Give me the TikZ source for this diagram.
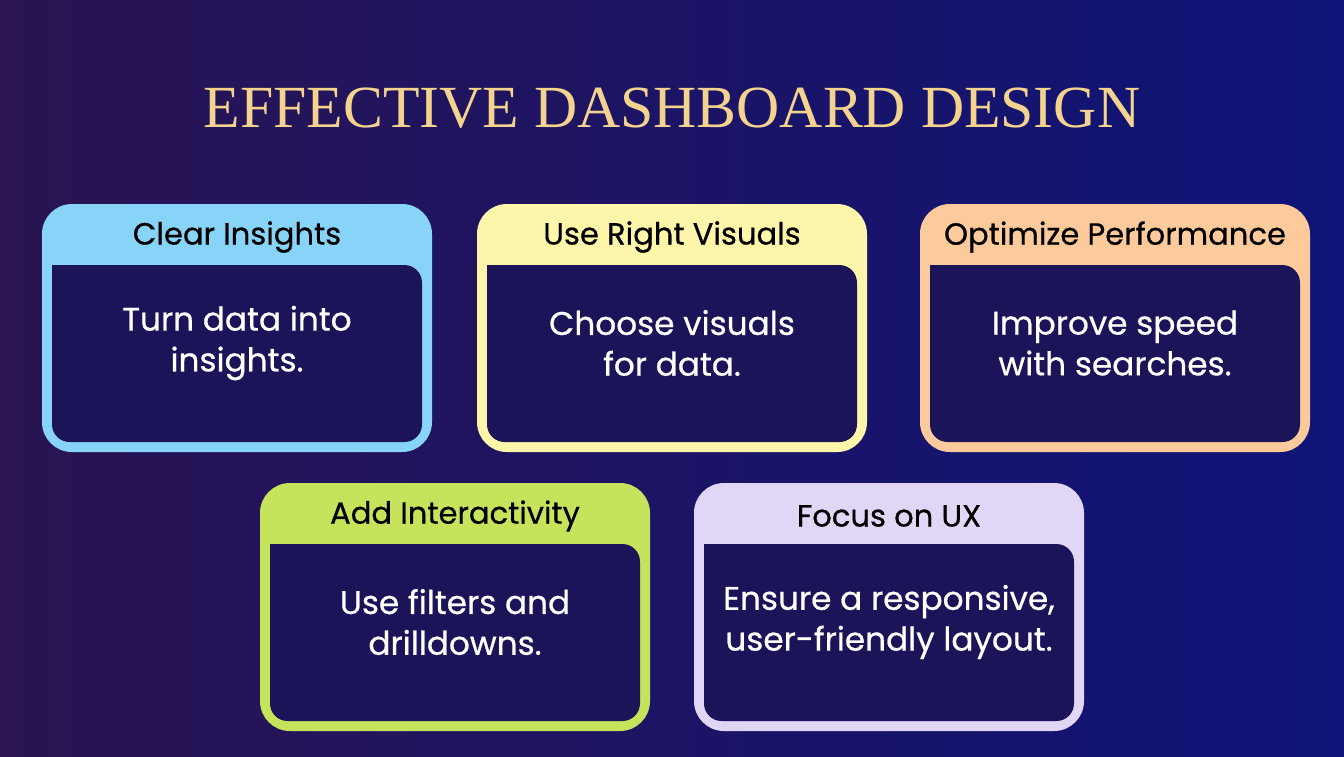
\documentclass[tikz,border=0pt]{standalone}
\usepackage{fontspec}
\setmainfont{Liberation Serif}
\newfontfamily\cardfont[FakeBold=0.6]{Poppins}
\usetikzlibrary{positioning,calc}
\definecolor{bgleft}{HTML}{2A1452}
\definecolor{bgright}{HTML}{0E1478}
\definecolor{inner}{HTML}{1C1458}
\definecolor{titlegold}{HTML}{F3D38E}
\definecolor{cblue}{HTML}{88D4F9}
\definecolor{cyellow}{HTML}{FDF6AA}
\definecolor{corange}{HTML}{FDCA9C}
\definecolor{cgreen}{HTML}{C6E35C}
\definecolor{clav}{HTML}{E1D6F5}
\tikzset{
  cardhead/.style={font=\cardfont\fontsize{8.7}{10}\selectfont, text=black},
  cardbody/.style={font=\cardfont\fontsize{9.3}{11.6}\selectfont, text=white, align=center}
}
% card: name, left, top, colour, heading, body
\newcommand{\card}[6]{
  \fill[#4, rounded corners=8.5pt] (#2,#3) rectangle ++(390,248);
  \fill[inner, rounded corners=5pt] (#2+10,#3+61) -- (#2+10,#3+238) -- (#2+380,#3+238) -- (#2+380,#3+61) [sharp corners] -- cycle;
  \node[cardhead] (#1head) at (#2+195,#3+33) {#5};
  \node[cardbody] (#1body) at (#2+195,#3+139) {#6};
}
\begin{document}
\begin{tikzpicture}[x=0.01cm,y=-0.01cm]
    \shade[left color=bgleft, right color=bgright] (0,0) rectangle (1344,756);
    \useasboundingbox (0,0) rectangle (1344,756);

    \node[text=titlegold, font=\fontsize{17}{20}\selectfont] (title) at (672,108) {EFFECTIVE DASHBOARD DESIGN};

    \card{clear}{42}{204}{cblue}{Clear Insights}{Turn data into\\insights.}
    \card{visual}{477}{204}{cyellow}{Use Right Visuals}{Choose visuals\\for data.}
    \card{perf}{920}{204}{corange}{Optimize Performance}{Improve speed\\with searches.}
    \card{inter}{260}{483}{cgreen}{Add Interactivity}{Use filters and\\drilldowns.}
    \card{ux}{694}{483}{clav}{Focus on UX}{Ensure a responsive,\\user-friendly layout.}
\end{tikzpicture}
\end{document}
